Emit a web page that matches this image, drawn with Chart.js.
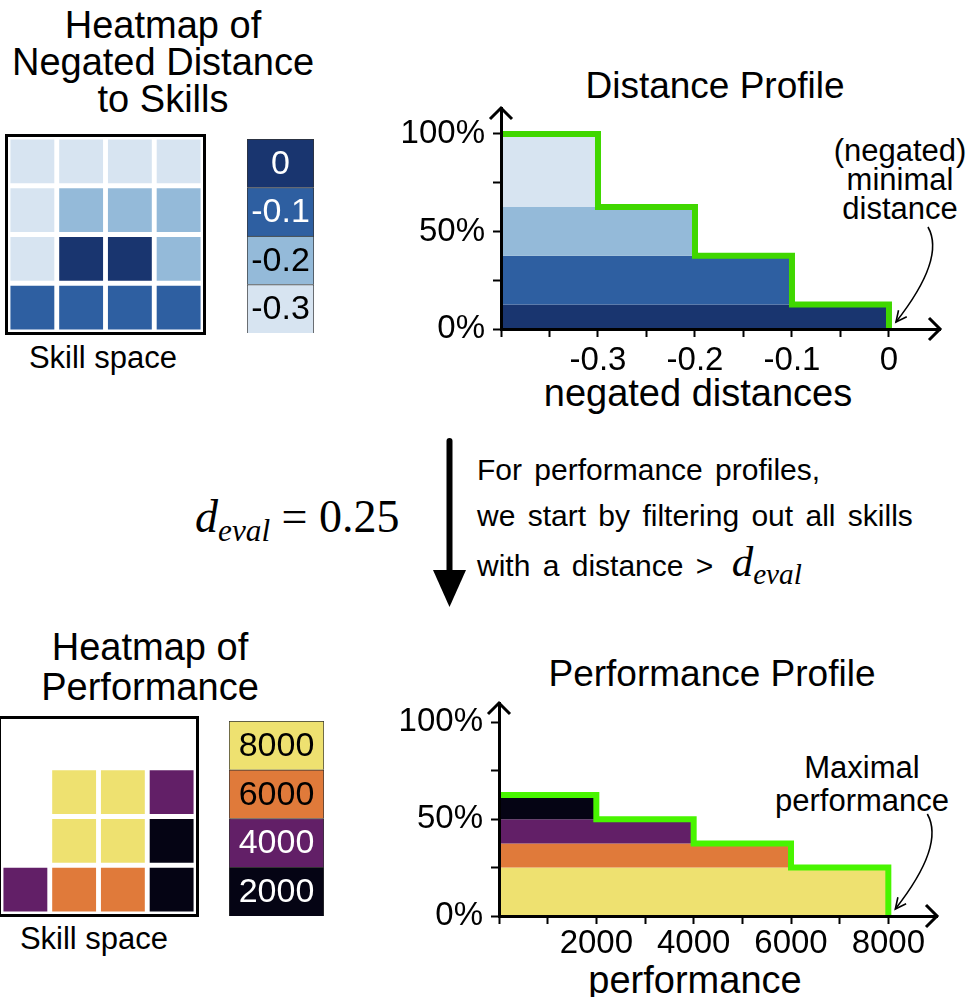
<!DOCTYPE html>
<html lang="en">
<head>
<meta charset="utf-8" />
<title>Distance and Performance Profiles</title>
<script src="https://cdn.jsdelivr.net/npm/chart.js@4/dist/chart.umd.min.js"></script>
<style>
  html, body { margin: 0; padding: 0; background: #fff; }
  body { width: 969px; height: 997px; position: relative; overflow: hidden;
         font-family: 'Liberation Sans', Arial, sans-serif; color: #000; }
  canvas { position: absolute; }
  .txt { position: absolute; transform: translate(-50%, -50%); text-align: center; white-space: nowrap; }
  .math { font-family: 'Liberation Serif', 'DejaVu Serif', serif; white-space: nowrap; }
  .math sub { font-size: 0.68em; font-style: italic; vertical-align: -0.28em; line-height: 0; }
</style>
</head>
<body>

<div class="txt" style="left:163px; top:62px; font-size:38px; line-height:37px">Heatmap of<br>Negated Distance<br>to Skills</div>
<div class="txt" style="left:103px; top:357px; font-size:31px; line-height:31px">Skill space</div>
<div class="txt" style="left:715px; top:85px; font-size:37px; line-height:37px">Distance Profile</div>
<div class="txt" style="left:900px; top:179px; font-size:31px; line-height:29px">(negated)<br>minimal<br>distance</div>
<div class="txt" style="left:698px; top:393px; font-size:38px; line-height:38px">negated distances</div>

<div class="math" style="position:absolute; left:195px; top:494px; font-size:46px; line-height:46px"><i>d</i><sub>eval</sub> = 0.25</div>
<div style="position:absolute; left:477px; top:447px; font-size:30px; line-height:46px; word-spacing:4px; white-space:nowrap">For performance profiles,<br>we start by filtering out all skills<br>with a distance &gt; <span class="math" style="font-size:43px; word-spacing:0; margin-left:6px"><i>d</i><sub>eval</sub></span></div>
<svg style="position:absolute; left:0; top:0" width="969" height="997">
  <line x1="449.5" y1="441" x2="449.5" y2="575" stroke="#000" stroke-width="6" stroke-linecap="round" />
  <polygon points="433,570 466,570 449.5,607" fill="#000" />
</svg>

<div class="txt" style="left:150px; top:667px; font-size:38px; line-height:40px">Heatmap of<br>Performance</div>
<div class="txt" style="left:94px; top:938px; font-size:31px; line-height:31px">Skill space</div>
<div class="txt" style="left:712px; top:673px; font-size:37px; line-height:37px">Performance Profile</div>
<div class="txt" style="left:862px; top:784px; font-size:31px; line-height:33px">Maximal<br>performance</div>
<div class="txt" style="left:695px; top:980px; font-size:38px; line-height:38px">performance</div>

<canvas id="hmDist" width="201" height="201" style="left:5px; top:134px"></canvas>
<canvas id="cbDist" width="67" height="194" style="left:247px; top:139px"></canvas>
<canvas id="profDist" width="589" height="280" style="left:380px; top:100px"></canvas>
<canvas id="hmPerf" width="201" height="201" style="left:-2px; top:716px"></canvas>
<canvas id="cbPerf" width="95" height="195" style="left:229px; top:721px"></canvas>
<canvas id="profPerf" width="589" height="307" style="left:380px; top:690px"></canvas>

<script>
// --- data ---
// heatmap of negated distance to skills, rows top to bottom
const distGrid = [
    [-0.3, -0.3, -0.3, -0.3],
    [-0.3, -0.2, -0.2, -0.2],
    [-0.3, 0, 0, -0.2],
    [-0.1, -0.1, -0.1, -0.1]
];
const distLevels = [0, -0.1, -0.2, -0.3];
const distLevelLabels = ['0', '-0.1', '-0.2', '-0.3'];
const distColors = ['#19356f', '#2e5fa1', '#94bad9', '#d7e4f1'];
const distTextColors = ['#fff', '#fff', '#000', '#000'];

// heatmap of performance after filtering (null = filtered out)
const perfGrid = [
    [null, null, null, null],
    [null, 8000, 8000, 4000],
    [null, 8000, 8000, 2000],
    [4000, 6000, 6000, 2000]
];
const perfLevels = [8000, 6000, 4000, 2000];
const perfLevelLabels = ['8000', '6000', '4000', '2000'];
const perfColors = ['#eee170', '#e07a3a', '#621f67', '#050414'];
const perfTextColors = ['#000', '#000', '#fff', '#fff'];

// profiles: step edges and share of skills (%) at or above each step
const distSteps = [-0.4, -0.3, -0.2, -0.1, 0];
const distShare = [100, 62.5, 37.5, 12.5, 0];
const perfSteps = [0, 2000, 4000, 6000, 8000];
const perfShare = [62.5, 50, 37.5, 25, 0];

const distXTicks = [-0.4, -0.35, -0.3, -0.25, -0.2, -0.15, -0.1, -0.05, 0];
const distXLabels = ['', '', '-0.3', '', '-0.2', '', '-0.1', '', '0'];
const perfXTicks = [0, 1000, 2000, 3000, 4000, 5000, 6000, 7000, 8000];
const perfXLabels = ['', '', '2000', '', '4000', '', '6000', '', '8000'];
const pctTicks = [0, 25, 50, 75, 100];
const pctLabels = ['0%', '', '50%', '', '100%'];

Chart.defaults.font.family = "'Liberation Sans', Arial, sans-serif";
Chart.defaults.color = '#000';
Chart.defaults.animation = false;

const noPlugins = { legend: { display: false }, tooltip: { enabled: false } };

function colorOf(levels, colors, v) {
    return colors[levels.indexOf(v)];
}

// black frame around a heatmap
const framePlugin = {
    id: 'frame',
    afterDraw(chart) {
        const ctx = chart.ctx;
        ctx.save();
        ctx.strokeStyle = '#000';
        ctx.lineWidth = 3;
        ctx.strokeRect(1.5, 1.5, chart.width - 3, chart.height - 3);
        ctx.restore();
    }
};

function heatmap(id, grid, levels, colors) {
    new Chart(document.getElementById(id), {
        type: 'bar',
        data: {
            labels: grid[0].map((_, i) => 'c' + i),
            datasets: grid.map((row, r) => ({
                data: row.map(v => v === null ? null : [r - 0.45, r + 0.45]),
                backgroundColor: row.map(v => v === null ? 'rgba(0,0,0,0)' : colorOf(levels, colors, v)),
                grouped: false,
                barPercentage: 0.9,
                categoryPercentage: 1
            }))
        },
        options: {
            responsive: false,
            devicePixelRatio: 1,
            layout: { padding: 3 },
            scales: {
                x: { display: false },
                y: { display: false, min: -0.5, max: 3.5, reverse: true }
            },
            plugins: noPlugins
        },
        plugins: [framePlugin]
    });
}

// colour bar: text drawn in the middle of each segment
const segLabelPlugin = {
    id: 'segLabels',
    afterDatasetsDraw(chart) {
        const ctx = chart.ctx;
        ctx.save();
        ctx.font = "34px 'Liberation Sans', Arial, sans-serif";
        ctx.textAlign = 'center';
        ctx.textBaseline = 'middle';
        chart.data.datasets.forEach((ds, i) => {
            const bar = chart.getDatasetMeta(i).data[0];
            ctx.fillStyle = ds.textColor;
            ctx.fillText(ds.label, bar.x, (bar.y + bar.base) / 2 + 1);
        });
        ctx.restore();
    }
};

function colorbar(id, labels, colors, textColors) {
    // stacked from the bottom, so the last level goes first
    const order = labels.map((_, i) => i).reverse();
    new Chart(document.getElementById(id), {
        type: 'bar',
        data: {
            labels: [''],
            datasets: order.map(i => ({
                label: labels[i],
                data: [1],
                backgroundColor: colors[i],
                borderColor: '#333',
                borderWidth: 1,
                textColor: textColors[i],
                barPercentage: 1,
                categoryPercentage: 1
            }))
        },
        options: {
            responsive: false,
            devicePixelRatio: 1,
            scales: {
                x: { display: false, stacked: true },
                y: { display: false, stacked: true, min: 0, max: labels.length }
            },
            plugins: noPlugins
        },
        plugins: [segLabelPlugin]
    });
}

// open arrow heads at the ends of both axes
const axisArrows = {
    id: 'axisArrows',
    afterDraw(chart) {
        const { ctx, chartArea: a } = chart;
        const s = 11;
        ctx.save();
        ctx.strokeStyle = '#000';
        ctx.lineWidth = 3;
        ctx.beginPath();
        ctx.moveTo(a.right - s, a.bottom - s);
        ctx.lineTo(a.right, a.bottom);
        ctx.lineTo(a.right - s, a.bottom + s);
        ctx.moveTo(a.left - s, a.top + s);
        ctx.lineTo(a.left, a.top);
        ctx.lineTo(a.left + s, a.top + s);
        ctx.stroke();
        ctx.restore();
    }
};

// curved annotation arrow pointing at the end of the profile
const noteArrow = {
    id: 'noteArrow',
    afterDraw(chart, args, opts) {
        const { ctx, scales: { x, y } } = chart;
        const tx = x.getPixelForValue(opts.value) + 7;
        const ty = y.getPixelForValue(0) - 7;
        ctx.save();
        ctx.strokeStyle = '#000';
        ctx.lineWidth = 1.6;
        ctx.beginPath();
        ctx.moveTo(tx + 32, ty - 95);
        ctx.bezierCurveTo(tx + 45, ty - 72, tx + 29, ty - 37, tx, ty);
        ctx.stroke();
        const ang = Math.atan2(37, -29);
        const len = 12;
        ctx.beginPath();
        ctx.moveTo(tx - len * Math.cos(ang - 0.45), ty - len * Math.sin(ang - 0.45));
        ctx.lineTo(tx, ty);
        ctx.lineTo(tx - len * Math.cos(ang + 0.45), ty - len * Math.sin(ang + 0.45));
        ctx.stroke();
        ctx.restore();
    }
};

function profile(id, o) {
    const bands = o.steps.slice(1).map((edge, k) => ({
        data: [{ x: o.steps[0], y: o.share[k] }, { x: edge, y: o.share[k] }],
        showLine: true,
        borderWidth: 0,
        pointRadius: 0,
        backgroundColor: colorOf(o.levels, o.colors, edge),
        fill: { value: o.share[k + 1] },
        order: 2
    }));
    const green = {
        data: o.steps.map((s, i) => ({ x: s, y: o.share[i] })),
        showLine: true,
        stepped: 'before',
        borderColor: o.green,
        borderWidth: 6,
        pointRadius: 0,
        fill: false,
        order: 1
    };
    const axisStyle = {
        border: { display: true, color: '#000', width: 3, z: 1 },
        grid: { drawOnChartArea: false, drawTicks: true, tickLength: 8, tickWidth: 2, color: '#000' }
    };
    new Chart(document.getElementById(id), {
        type: 'scatter',
        data: { datasets: [green, ...bands] },
        options: {
            responsive: false,
            devicePixelRatio: 1,
            layout: { padding: { top: o.padTop, right: o.padRight, left: 0, bottom: 0 } },
            scales: {
                x: {
                    type: 'linear', min: o.xMin, max: o.xMax,
                    ...axisStyle,
                    afterBuildTicks: s => { s.ticks = o.xTicks.map(v => ({ value: v })); },
                    afterFit: s => { s.height = o.xAxisHeight; s.paddingLeft = 0; s.paddingRight = 0; },
                    ticks: {
                        autoSkip: false, maxRotation: 0, padding: o.xTickPad,
                        font: { size: 33, lineHeight: 1 },
                        callback: (v, i) => o.xLabels[i]
                    }
                },
                y: {
                    type: 'linear', min: 0, max: o.yMax,
                    ...axisStyle,
                    afterBuildTicks: s => { s.ticks = pctTicks.map(v => ({ value: v })); },
                    afterFit: s => { s.width = o.yAxisWidth; s.paddingTop = 0; s.paddingBottom = 0; },
                    ticks: {
                        autoSkip: false, padding: 8,
                        font: { size: 33, lineHeight: 1 },
                        callback: (v, i) => pctLabels[i]
                    }
                }
            },
            plugins: { ...noPlugins, noteArrow: { value: o.steps[o.steps.length - 1] } }
        },
        plugins: [axisArrows, noteArrow]
    });
}

heatmap('hmDist', distGrid, distLevels, distColors);
colorbar('cbDist', distLevelLabels, distColors, distTextColors);
profile('profDist', {
    steps: distSteps, share: distShare, levels: distLevels, colors: distColors,
    green: '#40d700', xMin: -0.4, xMax: 0.0526, yMax: 113.3,
    xTicks: distXTicks, xLabels: distXLabels, xTickPad: 7,
    padTop: 8, padRight: 29, yAxisWidth: 121, xAxisHeight: 51
});

heatmap('hmPerf', perfGrid, perfLevels, perfColors);
colorbar('cbPerf', perfLevelLabels, perfColors, perfTextColors);
profile('profPerf', {
    steps: perfSteps, share: perfShare, levels: perfLevels, colors: perfColors,
    green: '#48f500', xMin: 0, xMax: 9000, yMax: 110,
    xTicks: perfXTicks, xLabels: perfXLabels, xTickPad: 3,
    padTop: 13, padRight: 32, yAxisWidth: 119, xAxisHeight: 81
});
</script>
</body>
</html>
